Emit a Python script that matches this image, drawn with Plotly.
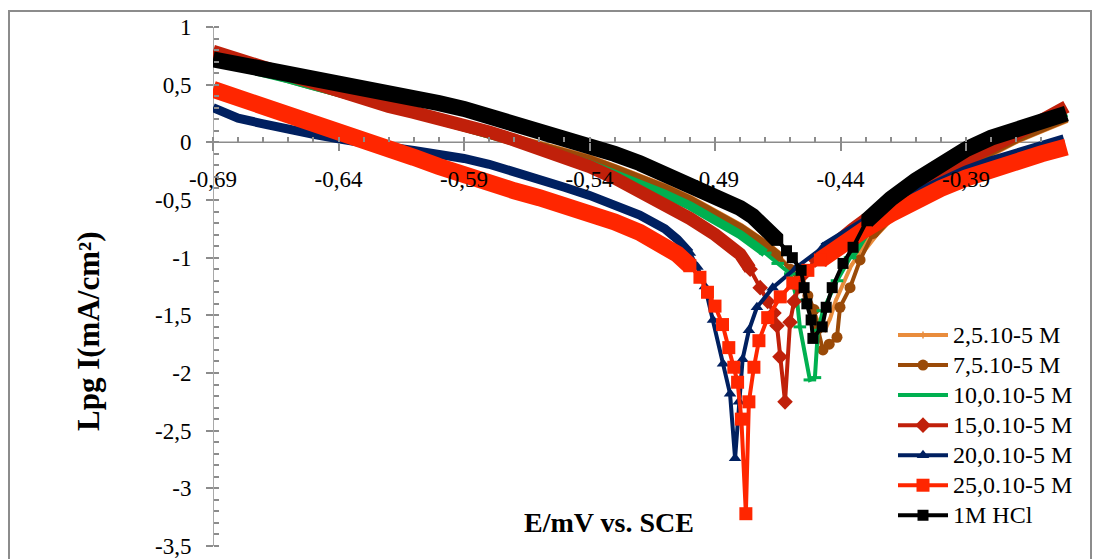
import plotly.graph_objects as go

# ---------------- data ----------------
series_names = ["2,5.10-5 M", "7,5.10-5 M", "10,0.10-5 M", "15,0.10-5 M",
                "20,0.10-5 M", "25,0.10-5 M", "1M HCl"]

# 2,5.10-5 M
E_c2_5 = [-0.69, -0.68, -0.67, -0.66, -0.65, -0.64, -0.63, -0.62, -0.61, -0.60,
          -0.59, -0.58, -0.57, -0.56, -0.55, -0.54, -0.53, -0.52, -0.51, -0.50,
          -0.49, -0.48, -0.47, -0.465, -0.46, -0.456, -0.453, -0.4505, -0.448,
          -0.446, -0.444, -0.442, -0.439, -0.436, -0.432, -0.427, -0.42, -0.41,
          -0.40, -0.39, -0.38, -0.37, -0.36, -0.35]
L_c2_5 = [0.75, 0.69, 0.63, 0.58, 0.52, 0.46, 0.41, 0.35, 0.29, 0.23,
          0.17, 0.11, 0.05, -0.01, -0.08, -0.15, -0.23, -0.31, -0.40, -0.50,
          -0.61, -0.74, -0.89, -0.98, -1.09, -1.20, -1.33, -1.48, -1.60,
          -1.62, -1.52, -1.38, -1.22, -1.08, -0.94, -0.80, -0.64, -0.48,
          -0.34, -0.20, -0.08, 0.03, 0.12, 0.21]

# 7,5.10-5 M
E_c7_5 = [-0.69, -0.68, -0.67, -0.66, -0.65, -0.64, -0.63, -0.62, -0.61, -0.60,
          -0.59, -0.58, -0.57, -0.56, -0.55, -0.54, -0.53, -0.52, -0.51, -0.50,
          -0.49, -0.48, -0.47, -0.465, -0.46, -0.456, -0.453, -0.4505, -0.449,
          -0.447, -0.4445, -0.4414, -0.4402, -0.4362, -0.4322, -0.427, -0.42,
          -0.41, -0.40, -0.39, -0.38, -0.37, -0.36, -0.35]
L_c7_5 = [0.74, 0.68, 0.62, 0.57, 0.51, 0.45, 0.40, 0.34, 0.28, 0.22,
          0.16, 0.10, 0.04, -0.02, -0.09, -0.16, -0.24, -0.32, -0.41, -0.51,
          -0.62, -0.75, -0.90, -0.99, -1.10, -1.21, -1.33, -1.45, -1.62,
          -1.80, -1.75, -1.69, -1.43, -1.26, -1.02, -0.79, -0.62,
          -0.47, -0.33, -0.19, -0.07, 0.04, 0.13, 0.22]

# 10,0.10-5 M
E_c10 = [-0.69, -0.68, -0.67, -0.66, -0.65, -0.64, -0.63, -0.62, -0.61, -0.60,
         -0.59, -0.58, -0.57, -0.56, -0.55, -0.54, -0.53, -0.52, -0.51, -0.50,
         -0.49, -0.48, -0.47, -0.465, -0.460, -0.4573, -0.4562, -0.4522, -0.4502,
         -0.449, -0.447, -0.4414, -0.4362, -0.43, -0.42, -0.41, -0.40, -0.39,
         -0.38, -0.37, -0.36, -0.35]
L_c10 = [0.71, 0.66, 0.60, 0.55, 0.49, 0.44, 0.38, 0.32, 0.26, 0.20,
         0.14, 0.08, 0.01, -0.05, -0.12, -0.19, -0.27, -0.35, -0.45, -0.55,
         -0.67, -0.80, -0.96, -1.05, -1.14, -1.37, -1.60, -2.06, -2.04,
         -1.63, -1.46, -1.20, -1.00, -0.78, -0.58, -0.42, -0.27, -0.13,
         -0.02, 0.08, 0.17, 0.26]

# 15,0.10-5 M
E_c15 = [-0.69, -0.68, -0.67, -0.66, -0.65, -0.64, -0.63, -0.62, -0.61, -0.60,
         -0.59, -0.58, -0.57, -0.56, -0.55, -0.54, -0.53, -0.52, -0.51, -0.50,
         -0.49, -0.48, -0.476, -0.472, -0.469, -0.4665, -0.4653, -0.4641, -0.4621,
         -0.4601, -0.4585, -0.4565, -0.454, -0.45, -0.445, -0.44, -0.435, -0.43,
         -0.42, -0.41, -0.40, -0.39, -0.38, -0.37, -0.36, -0.35]
L_c15 = [0.79, 0.72, 0.64, 0.57, 0.50, 0.43, 0.37, 0.31, 0.26, 0.21,
         0.15, 0.09, 0.02, -0.05, -0.12, -0.21, -0.31, -0.42, -0.53, -0.66,
         -0.80, -0.97, -1.10, -1.26, -1.38, -1.48, -1.59, -1.86, -2.25,
         -1.56, -1.38, -1.25, -1.13, -1.02, -0.92, -0.83, -0.75, -0.67,
         -0.53, -0.40, -0.27, -0.15, -0.05, 0.07, 0.19, 0.31]

# 20,0.10-5 M
E_c20 = [-0.69, -0.685, -0.68, -0.67, -0.66, -0.65, -0.64, -0.63, -0.62, -0.61,
         -0.60, -0.59, -0.58, -0.57, -0.56, -0.55, -0.54, -0.53, -0.52, -0.51,
         -0.505, -0.50, -0.497, -0.494, -0.4908, -0.4868, -0.484, -0.482, -0.4805,
         -0.479, -0.4765, -0.4733, -0.467, -0.4573, -0.447, -0.435, -0.43, -0.42,
         -0.41, -0.40, -0.39, -0.38, -0.37, -0.36, -0.351]
L_c20 = [0.30, 0.25, 0.21, 0.16, 0.11, 0.07, 0.03, -0.01, -0.04, -0.07,
         -0.10, -0.14, -0.19, -0.25, -0.32, -0.39, -0.46, -0.54, -0.63, -0.75,
         -0.84, -0.96, -1.08, -1.25, -1.54, -1.92, -2.18, -2.74, -2.25,
         -1.88, -1.63, -1.43, -1.26, -1.08, -0.91, -0.74, -0.67, -0.55,
         -0.44, -0.33, -0.24, -0.16, -0.09, -0.03, 0.03]

# 25,0.10-5 M
E_c25 = [-0.69, -0.68, -0.67, -0.66, -0.65, -0.64, -0.63, -0.62, -0.61, -0.60,
         -0.59, -0.58, -0.57, -0.56, -0.55, -0.54, -0.53, -0.52, -0.51, -0.505,
         -0.50, -0.496, -0.493, -0.49, -0.487, -0.4845, -0.4825, -0.481, -0.4795,
         -0.4777, -0.4765, -0.4745, -0.4725, -0.469, -0.464, -0.459, -0.453,
         -0.448, -0.443, -0.437, -0.43, -0.42, -0.41, -0.40, -0.39, -0.38,
         -0.37, -0.36, -0.35]
L_c25 = [0.46, 0.39, 0.32, 0.25, 0.18, 0.11, 0.03, -0.05, -0.13, -0.21,
         -0.29, -0.36, -0.42, -0.48, -0.54, -0.61, -0.69, -0.78, -0.89, -0.97,
         -1.07, -1.17, -1.30, -1.42, -1.58, -1.78, -1.95, -2.08, -2.40,
         -3.22, -2.25, -1.95, -1.72, -1.52, -1.34, -1.22, -1.11,
         -1.02, -0.94, -0.85, -0.75, -0.62, -0.50, -0.40, -0.31, -0.23,
         -0.16, -0.10, -0.04]

# 1M HCl (blank)
E_hcl = [-0.69, -0.68, -0.67, -0.66, -0.65, -0.64, -0.63, -0.62, -0.61, -0.60,
         -0.59, -0.58, -0.57, -0.56, -0.55, -0.54, -0.53, -0.52, -0.51, -0.50,
         -0.49, -0.48, -0.475, -0.47, -0.465, -0.4615, -0.4592, -0.4557, -0.4545,
         -0.4534, -0.4517, -0.451, -0.4473, -0.4457, -0.4433, -0.439, -0.435,
         -0.4295, -0.425, -0.42, -0.41, -0.40, -0.39, -0.38, -0.37, -0.36, -0.35]
L_hcl = [0.72, 0.68, 0.65, 0.61, 0.57, 0.53, 0.48, 0.44, 0.39, 0.34,
         0.29, 0.23, 0.17, 0.11, 0.05, -0.03, -0.10, -0.18, -0.27, -0.36,
         -0.46, -0.57, -0.64, -0.73, -0.85, -0.94, -1.00, -1.11, -1.26,
         -1.40, -1.54, -1.70, -1.60, -1.43, -1.26, -1.05, -0.91,
         -0.68, -0.58, -0.49, -0.33, -0.19, -0.06, 0.04, 0.12, 0.19, 0.25]

x_tick_values = [-0.69, -0.64, -0.59, -0.54, -0.49, -0.44, -0.39]
x_tick_labels = ["-0,69", "-0,64", "-0,59", "-0,54", "-0,49", "-0,44", "-0,39"]
y_tick_values = [1, 0.5, 0, -0.5, -1, -1.5, -2, -2.5, -3, -3.5]
y_tick_labels = ["1", "0,5", "0", "-0,5", "-1", "-1,5", "-2", "-2,5", "-3", "-3,5"]

x_title = "E/mV vs. SCE"
y_title = "Lpg I(mA/cm²)"

# ---------------- styling ----------------
E_all = [E_c2_5, E_c7_5, E_c10, E_c15, E_c20, E_c25, E_hcl]
L_all = [L_c2_5, L_c7_5, L_c10, L_c15, L_c20, L_c25, L_hcl]
styles = [
    dict(color="#E98C3C", symbol="line-ns", size=5, band=10, thr=-1.0, mlw=1.5),
    dict(color="#9A4A08", symbol="circle", size=11, band=11, thr=-1.0, mlw=0),
    dict(color="#00B050", symbol="line-ew", size=9, band=9, thr=-1.0, mlw=3),
    dict(color="#C0200A", symbol="diamond", size=12, band=13, thr=-1.1, mlw=0),
    dict(color="#002060", symbol="triangle-up", size=11, band=9, thr=-1.0, mlw=0),
    dict(color="#FF2600", symbol="square", size=13, band=17, thr=-1.1, mlw=0),
    dict(color="#000000", symbol="square", size=11, band=16, thr=-0.9, mlw=0),
]

fig = go.Figure()
for name, E, L, st in zip(series_names, E_all, L_all, styles):
    band_y = [v if v >= st["thr"] else None for v in L]
    fig.add_trace(go.Scatter(
        x=E, y=band_y, mode="lines", connectgaps=False, showlegend=False,
        hoverinfo="skip", line=dict(color=st["color"], width=st["band"])))
    idx = [i for i, v in enumerate(L) if v < st["thr"]]
    i0 = max(idx[0] - 1, 0)
    i1 = min(idx[-1] + 1, len(L) - 1)
    fig.add_trace(go.Scatter(
        x=E[i0:i1 + 1], y=L[i0:i1 + 1], mode="lines+markers",
        name="<span style='font-size:24px'>" + name + "</span>",
        line=dict(color=st["color"], width=4),
        marker=dict(symbol=st["symbol"], size=st["size"], color=st["color"],
                    line=dict(color=st["color"], width=st["mlw"]))))

axis_grey = "#8C8C8C"
minor_x = [round(-0.69 + 0.01 * i, 2) for i in range(0, 34)]

L_PX, R_PX, T_PX, B_PX = 213, 0, 27, 13
W, H = 1098, 559
pw = W - L_PX - R_PX
ph = H - T_PX - B_PX
x_max = -0.69 + pw / 2510.0

fig.update_layout(
    width=W, height=H,
    margin=dict(l=L_PX, r=R_PX, t=T_PX, b=B_PX, pad=0, autoexpand=False),
    paper_bgcolor="white", plot_bgcolor="white",
    font=dict(family="Liberation Serif", size=23, color="black"),
    showlegend=True,
    legend=dict(x=(893 - L_PX) / pw, y=(546 - 315) / ph, xanchor="left", yanchor="top",
                font=dict(family="Liberation Serif", size=20.8, color="black"),
                bgcolor="rgba(255,255,255,0)", borderwidth=0, tracegroupgap=0,
                itemsizing="trace", itemwidth=50),
    xaxis=dict(range=[-0.69, x_max], anchor="free", position=3.5 / 4.5,
               showline=False, layer="above traces",
               ticks="outside", ticklen=8, tickwidth=1.5, tickcolor=axis_grey,
               tickmode="array", tickvals=x_tick_values, ticktext=x_tick_labels,
               ticklabelstandoff=8, ticklabeloverflow="allow",
               showgrid=False, zeroline=False,
               minor=dict(ticks="inside", ticklen=5, tickwidth=1.5, tickcolor=axis_grey,
                          tickmode="array", tickvals=minor_x, showgrid=False)),
    yaxis=dict(range=[-3.5, 1], anchor="free", position=0,
               showline=False, layer="above traces",
               ticks="outside", ticklen=7, tickwidth=1.5, tickcolor=axis_grey,
               tickmode="array", tickvals=y_tick_values, ticktext=y_tick_labels,
               ticklabelstandoff=10, ticklabeloverflow="allow",
               showgrid=False, zeroline=False,
               minor=dict(ticks="inside", ticklen=5, tickwidth=1.5, tickcolor=axis_grey,
                          dtick=0.1, tick0=0, showgrid=False)),
    annotations=[
        dict(text="<b>" + x_title + "</b>", xref="paper", yref="paper",
             x=(609 - L_PX) / pw, y=(546 - 522) / ph, showarrow=False,
             font=dict(family="Liberation Serif", size=28, color="black"),
             xanchor="center", yanchor="middle"),
        dict(text="<b>" + y_title + "</b>", xref="paper", yref="paper",
             x=(88 - L_PX) / pw, y=(546 - 331) / ph, showarrow=False, textangle=-90,
             font=dict(family="Liberation Serif", size=31, color="black"),
             xanchor="center", yanchor="middle"),
    ],
    shapes=[
        dict(type="rect", xref="paper", yref="paper",
             x0=(9 - L_PX) / pw, x1=(1091 - L_PX) / pw,
             y0=(546 - 580) / ph, y1=(546 - 11) / ph,
             line=dict(color=axis_grey, width=2), fillcolor="rgba(0,0,0,0)", layer="below"),
        dict(type="line", xref="x", yref="y", x0=-0.69, x1=minor_x[-1], y0=0, y1=0,
             line=dict(color=axis_grey, width=1.5), layer="below"),
        dict(type="line", xref="x", yref="y", x0=-0.69, x1=-0.69, y0=-3.5, y1=1,
             line=dict(color=axis_grey, width=1.5), layer="below"),
    ],
)

fig.write_html("out.html")
